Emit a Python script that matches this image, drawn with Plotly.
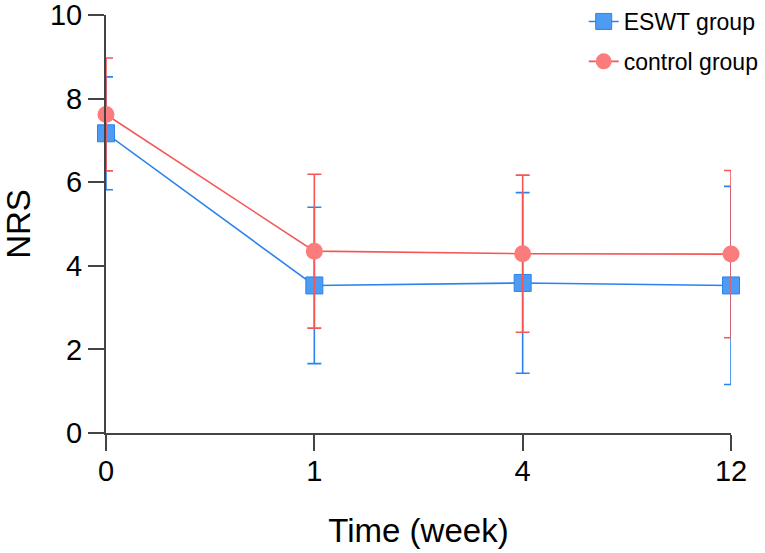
import plotly.graph_objects as go

time_labels = ["0", "1", "4", "12"]
x_pos = [0, 1, 2, 3]

eswt_mean = [7.17, 3.53, 3.59, 3.53]
eswt_sd = [1.35, 1.87, 2.16, 2.37]

control_mean = [7.62, 4.35, 4.29, 4.28]
control_sd = [1.35, 1.84, 1.88, 2.00]

FONT = "Liberation Sans, Arial, sans-serif"
BLUE_LINE = "#2b83ee"
BLUE_FILL = "#4d9bf2"
RED_LINE = "#f45757"
RED_FILL = "#fb7c7c"

fig = go.Figure()
fig.add_trace(go.Scatter(
    x=x_pos, y=eswt_mean, name="ESWT group", mode="lines+markers",
    legendgroup="a",
    line=dict(color=BLUE_LINE, width=1.6),
    marker=dict(symbol="square", size=17, color=BLUE_FILL, line=dict(color=BLUE_LINE, width=1)),
    error_y=dict(type="data", array=eswt_sd, visible=True, color=BLUE_LINE, thickness=1.6, width=7),
    cliponaxis=False,
))
fig.add_trace(go.Scatter(
    x=x_pos, y=control_mean, name="control group", mode="lines+markers",
    legendgroup="b",
    line=dict(color=RED_LINE, width=1.6),
    marker=dict(symbol="circle", size=17, color=RED_FILL, line=dict(color=RED_FILL, width=0)),
    error_y=dict(type="data", array=control_sd, visible=True, color=RED_LINE, thickness=1.6, width=7),
    cliponaxis=False,
))

fig.update_layout(
    width=765, height=553,
    margin=dict(l=106, r=34, t=15, b=120, autoexpand=False),
    paper_bgcolor="white", plot_bgcolor="white",
    font=dict(family=FONT, color="black"),
    showlegend=True,
    legend=dict(
        xref="container", yref="container",
        x=0.763, y=1.043, xanchor="left", yanchor="top",
        font=dict(size=23, family=FONT, color="black"),
        bgcolor="rgba(0,0,0,0)", tracegroupgap=7,
    ),
    xaxis=dict(
        range=[0, 3], tickmode="array", tickvals=x_pos, ticktext=time_labels,
        showline=True, linecolor="#444", linewidth=2,
        ticks="outside", ticklen=16, tickwidth=2, tickcolor="#444",
        showgrid=False, zeroline=False, automargin=False,
        ticklabeloverflow="allow", ticklabelstandoff=-5,
        tickfont=dict(size=29, family=FONT, color="black"),
        title=dict(text="Time (week)", font=dict(size=33, family=FONT, color="black"), standoff=33),
    ),
    yaxis=dict(
        range=[0, 10], tickmode="array", tickvals=[0, 2, 4, 6, 8, 10],
        showline=True, linecolor="#444", linewidth=2,
        ticks="outside", ticklen=16, tickwidth=2, tickcolor="#444",
        showgrid=False, zeroline=False, automargin=False,
        ticklabeloverflow="allow",
        tickfont=dict(size=29, family=FONT, color="black"),
        title=dict(text="NRS", font=dict(size=33, family=FONT, color="black"), standoff=32),
    ),
)

fig.write_html("out.html", config={"displayModeBar": False},
               post_script="document.body.style.margin='0';")
